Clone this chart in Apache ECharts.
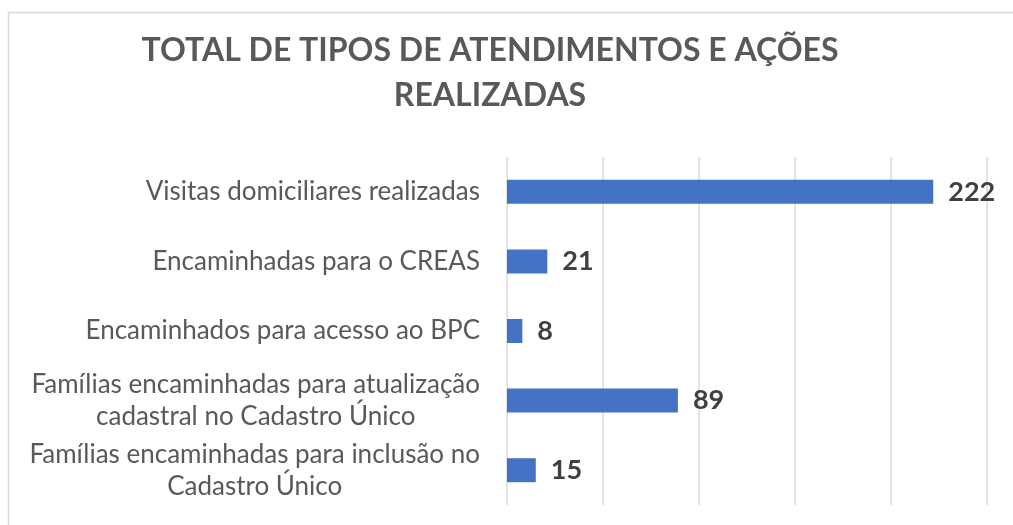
<!DOCTYPE html>
<html>
<head>
<meta charset="utf-8">
<script src="https://cdn.jsdelivr.net/npm/echarts@6/dist/echarts.min.js"></script>
<style>
html,body{margin:0;padding:0;background:#fff;}
#chart{width:1013px;height:525px;}
</style>
</head>
<body>
<div id="chart"></div>
<script>
const titleText = 'TOTAL DE TIPOS DE ATENDIMENTOS E AÇÕES\nREALIZADAS';
const categories = [
  'Visitas domiciliares realizadas',
  'Encaminhadas para o CREAS',
  'Encaminhados para acesso ao BPC',
  'Famílias encaminhadas para atualização\ncadastral no Cadastro Único',
  'Famílias encaminhadas para inclusão no\nCadastro Único'
];
const values = [222, 21, 8, 89, 15];
const axisMin = 0, axisMax = 250, axisInterval = 50;

const FONT = 'Lato, "Open Sans", sans-serif';
const chart = echarts.init(document.getElementById('chart'), null, {renderer: 'canvas'});
chart.setOption({
  animation: false,
  backgroundColor: '#ffffff',
  graphic: [{
    type: 'rect', z: -1,
    shape: {x: 8.5, y: 12.5, width: 1020, height: 530},
    style: {fill: 'none', stroke: '#d9d9d9', lineWidth: 1.5}
  }],
  title: {
    text: titleText,
    left: 485, top: 23, textAlign: 'center',
    textStyle: {fontFamily: FONT, fontWeight: 'bold', fontSize: 32, color: '#595959', lineHeight: 45}
  },
  grid: {left: 507, right: 26, top: 157, bottom: 20, containLabel: false},
  xAxis: {
    type: 'value', min: axisMin, max: axisMax, interval: axisInterval,
    axisLabel: {show: false}, axisLine: {show: false}, axisTick: {show: false},
    splitLine: {show: true, lineStyle: {color: '#d9d9d9', width: 1.5}}
  },
  yAxis: {
    type: 'category', data: categories, inverse: true,
    axisLine: {show: false}, axisTick: {show: false},
    axisLabel: {
      margin: 27, align: 'right',
      formatter: v => v.split('\n').map(l => '{c|' + l + '}').join('\n'),
      rich: {c: {align: 'center', fontFamily: FONT, fontSize: 26, color: '#595959', lineHeight: 32}}
    }
  },
  series: [{
    type: 'bar', data: values, barWidth: 24,
    itemStyle: {color: '#4472C4'},
    label: {show: true, position: 'right', distance: 15, fontFamily: FONT, fontWeight: 'bold', fontSize: 27, color: '#404040'}
  }]
});
</script>
</body>
</html>
